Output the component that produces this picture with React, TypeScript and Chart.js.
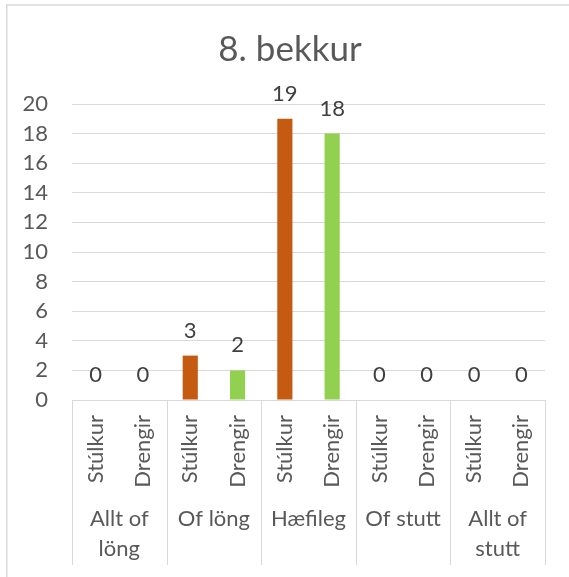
import { useEffect, useRef } from "react";
import { Chart, registerables } from "chart.js";

Chart.register(...registerables);

const chartTitle = "8. bekkur";
const groupLabels: string[][] = [
  ["Allt of", "löng"],
  ["Of löng"],
  ["Hæfileg"],
  ["Of stutt"],
  ["Allt of", "stutt"],
];
const genderLabels = ["Stúlkur", "Drengir"];
const girlsValues = [0, 3, 19, 0, 0];
const boysValues = [0, 2, 18, 0, 0];
const genderColors = ["#C55A11", "#92D050"];
const yMin = 0;
const yMax = 20;
const yStep = 2;

const FONT = "Lato, 'Open Sans', sans-serif";
const TEXT = "#595959";
const LABEL = "#404040";
const GRID = "#D9D9D9";

const categories = groupLabels.flatMap(() => genderLabels);
const values = groupLabels.flatMap((_, i) => [girlsValues[i], boysValues[i]]);
const colors = groupLabels.flatMap(() => genderColors);

const excelPlugin = {
  id: "excelLook",
  beforeDraw(chart: any) {
    const ctx = chart.ctx;
    ctx.save();
    ctx.fillStyle = "#FFFFFF";
    ctx.fillRect(0, 0, chart.width, chart.height);
    ctx.strokeStyle = GRID;
    ctx.lineWidth = 1.5;
    ctx.beginPath();
    ctx.moveTo(6.75, chart.height);
    ctx.lineTo(6.75, 5);
    ctx.lineTo(chart.width, 5);
    ctx.stroke();
    ctx.restore();
  },
  afterDraw(chart: any) {
    const ctx = chart.ctx;
    const xs = chart.scales.x;
    const area = chart.chartArea;
    const n = categories.length;
    const catW = (area.right - area.left) / n;
    ctx.save();
    // title
    ctx.fillStyle = TEXT;
    ctx.font = `35px ${FONT}`;
    ctx.textAlign = "center";
    ctx.textBaseline = "middle";
    ctx.fillText(chartTitle, 290, 50);
    // group separators
    ctx.strokeStyle = GRID;
    ctx.lineWidth = 1;
    for (let g = 0; g <= groupLabels.length; g++) {
      const idx = Math.min(g * genderLabels.length, n - 1);
      let px = xs.getPixelForValue(idx) - catW / 2;
      if (g === groupLabels.length) px = xs.getPixelForValue(n - 1) + catW / 2;
      px = Math.round(px) + 0.5;
      ctx.beginPath();
      ctx.moveTo(px, area.bottom);
      ctx.lineTo(px, area.bottom + 165);
      ctx.stroke();
    }
    // group labels
    ctx.font = `22px ${FONT}`;
    groupLabels.forEach((lines, g) => {
      const a = xs.getPixelForValue(g * 2);
      const b = xs.getPixelForValue(g * 2 + 1);
      const cx = (a + b) / 2;
      lines.forEach((line, li) => {
        ctx.fillText(line, cx, area.bottom + 119 + li * 30);
      });
    });
    ctx.restore();
  },
  afterDatasetsDraw(chart: any) {
    const ctx = chart.ctx;
    const meta = chart.getDatasetMeta(0);
    ctx.save();
    ctx.fillStyle = LABEL;
    ctx.font = `22px ${FONT}`;
    ctx.textAlign = "center";
    ctx.textBaseline = "alphabetic";
    meta.data.forEach((bar: any, i: number) => {
      ctx.fillText(String(values[i]), bar.x, bar.y - 18);
    });
    ctx.restore();
  },
};

export default function App() {
  const ref = useRef<HTMLCanvasElement | null>(null);
  useEffect(() => {
    if (!ref.current) return;
    const chart = new Chart(ref.current, {
      type: "bar",
      data: {
        labels: categories,
        datasets: [
          {
            data: values,
            backgroundColor: colors,
            borderWidth: 0,
            categoryPercentage: 1,
            barPercentage: 0.32,
          },
        ],
      },
      options: {
        animation: false,
        responsive: true,
        maintainAspectRatio: false,
        layout: { padding: { left: 11, right: 24, top: 104, bottom: 0 } },
        plugins: {
          legend: { display: false },
          tooltip: { enabled: false },
          title: { display: false },
        },
        scales: {
          x: {
            type: "category",
            offset: true,
            grid: { display: false, drawTicks: false },
            border: { display: false },
            ticks: {
              autoSkip: false,
              minRotation: 90,
              maxRotation: 90,
              padding: 15,
              color: TEXT,
              font: { family: FONT, size: 22 },
            },
            afterFit: (s: any) => {
              s.height = 177;
            },
          },
          y: {
            min: yMin,
            max: yMax,
            grid: { color: GRID, drawTicks: false, lineWidth: 1 },
            border: { display: false },
            ticks: {
              stepSize: yStep,
              padding: 24,
              color: TEXT,
              font: { family: FONT, size: 22 },
            },
            afterFit: (s: any) => {
              s.width = 61;
            },
          },
        },
      },
      plugins: [excelPlugin],
    });
    return () => chart.destroy();
  }, []);
  return (
    <div style={{ position: "absolute", left: 0, top: 0, width: 569, height: 577 }}>
      <canvas ref={ref} />
    </div>
  );
}
